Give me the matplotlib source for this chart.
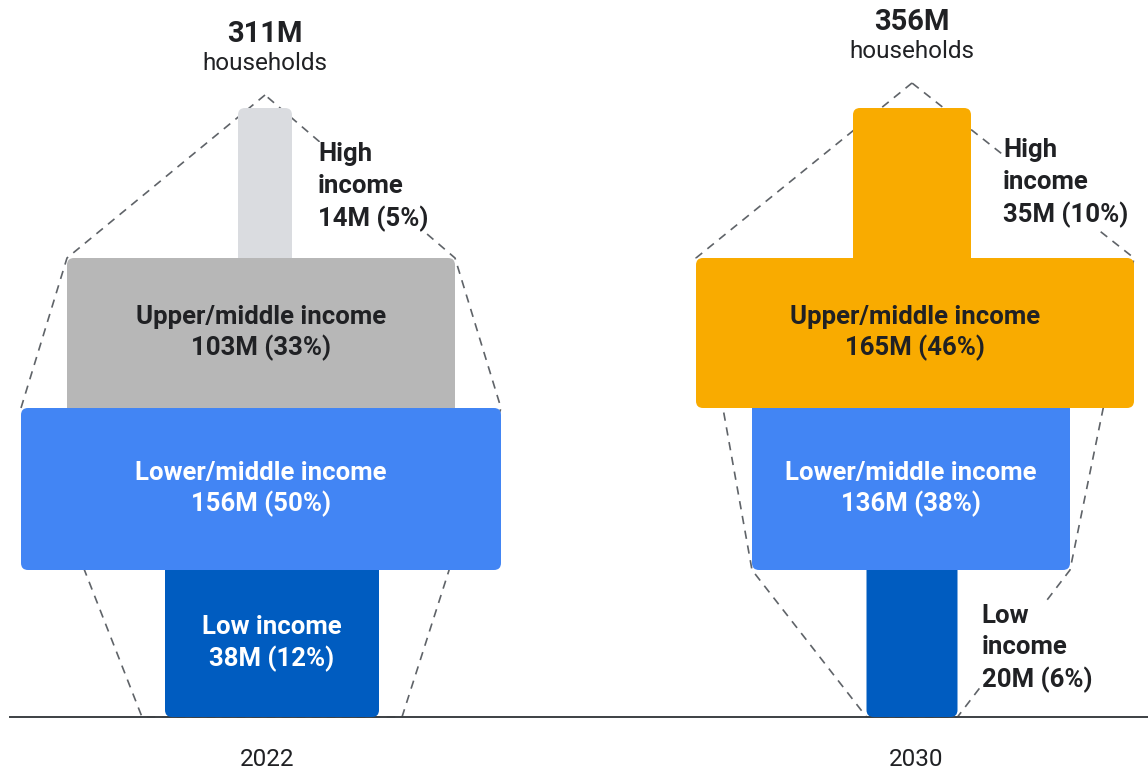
import matplotlib.pyplot as plt
from matplotlib.patches import FancyBboxPatch

plt.rcParams['font.family'] = ['Roboto', 'DejaVu Sans']

# データ (百万世帯)  上から下の順
categories = ['High income', 'Upper/middle income', 'Lower/middle income', 'Low income']
years = ['2022', '2030']
hh_2022 = [14, 103, 156, 38]
hh_2030 = [35, 165, 136, 20]

# レイアウト (1 data unit = 1 px, y は下から)
W, H = 1148, 772
base_y = 55
tier_h = [150, 150, 162, 147]
centers = [263, 912]
widths = [[54, 388, 480, 214], [118, 438, 318, 91]]
shifts = [[2, -2, -2, 9], [0, 3, -1, 0]]
fills = [['#DADCE0', '#B7B7B7', '#4285F4', '#005CC0'],
         ['#F9AB00', '#F9AB00', '#4285F4', '#005CC0']]
# 点線の外形: (bar, 'top'/'bottom', はみ出し)
outlines = [[(1, 'top', 0), (2, 'top', 0), (3, 'bottom', 23)],
            [(1, 'top', 0), (2, 'bottom', 0), (3, 'bottom', 0)]]
apex_pad = [13, 25]
side_gap = [[26, 0, 0, 0], [32, 0, 0, 24]]
side_dy = [[-4, 0, 0, 0], [0, 0, 0, -5]]
R = 7
dark = '#202124'

fig = plt.figure(figsize=(W / 100, H / 100), dpi=100)
ax = fig.add_axes([0, 0, 1, 1])
ax.set_xlim(0, W)
ax.set_ylim(0, H)
ax.axis('off')

for p, vals in enumerate([hh_2022, hh_2030]):
    total = sum(vals)
    cx = centers[p]
    wd = widths[p]
    # 各バーの上下
    bottoms, tops = [], []
    y = base_y
    for h in reversed(tier_h):
        bottoms.insert(0, y)
        tops.insert(0, y + h)
        y += h
    lefts = [cx + shifts[p][i] - wd[i] / 2 for i in range(4)]
    rights = [l + w for l, w in zip(lefts, wd)]
    rank = sorted(range(4), key=lambda i: wd[i])

    for i in range(4):
        b, t = bottoms[i], tops[i]
        if i < 3 and wd[i + 1] > wd[i]:
            b -= R
        if i > 0 and wd[i - 1] > wd[i]:
            t += R
        patch = FancyBboxPatch((lefts[i], b), wd[i], t - b,
                               boxstyle=f'round,pad=0,rounding_size={R}',
                               fc=fills[p][i], ec='none', zorder=3 + rank.index(i))
        ax.add_patch(patch)

        pct = round(vals[i] / total * 100)
        ymid = (bottoms[i] + tops[i]) / 2
        if wd[i] < 150:
            ax.text(rights[i] + side_gap[p][i], ymid + side_dy[p][i],
                    f'{categories[i].replace(" ", chr(10))}\n{vals[i]}M ({pct}%)',
                    ha='left', va='center', fontsize=18.5, fontweight='bold', color=dark,
                    linespacing=1.38, zorder=10,
                    bbox=dict(fc='white', ec='none', pad=1))
        else:
            tc = 'white' if fills[p][i] in ('#4285F4', '#005CC0') else dark
            ax.text(lefts[i] + wd[i] / 2, ymid, f'{categories[i]}\n{vals[i]}M ({pct}%)',
                    ha='center', va='center', fontsize=18.5, fontweight='bold', color=tc,
                    linespacing=1.3, zorder=10)

    # 点線の外形
    apex = (lefts[0] + wd[0] / 2, tops[0] + apex_pad[p])
    left_pts, right_pts = [], []
    for i, edge, fl in outlines[p]:
        yy = tops[i] if edge == 'top' else bottoms[i]
        left_pts.append((lefts[i] - fl, yy))
        right_pts.append((rights[i] + fl, yy))
    pts = [apex] + left_pts + right_pts[::-1] + [apex]
    ax.plot([q[0] for q in pts], [q[1] for q in pts], color='#5F6368', lw=1.2,
            dashes=(5, 4), zorder=1)

    # 合計
    ax.text(apex[0], apex[1] + 61, f'{total}M', ha='center', va='center',
            fontsize=21, fontweight='bold', color=dark)
    ax.text(apex[0], apex[1] + 32, 'households', ha='center', va='center',
            fontsize=17.5, color=dark)
    ax.text(cx + 4, 12, years[p], ha='center', va='center', fontsize=17.5, color=dark)

ax.plot([10, W], [base_y, base_y], color='#3C4043', lw=1.4, zorder=2)

fig.savefig('out.png', dpi=100)
